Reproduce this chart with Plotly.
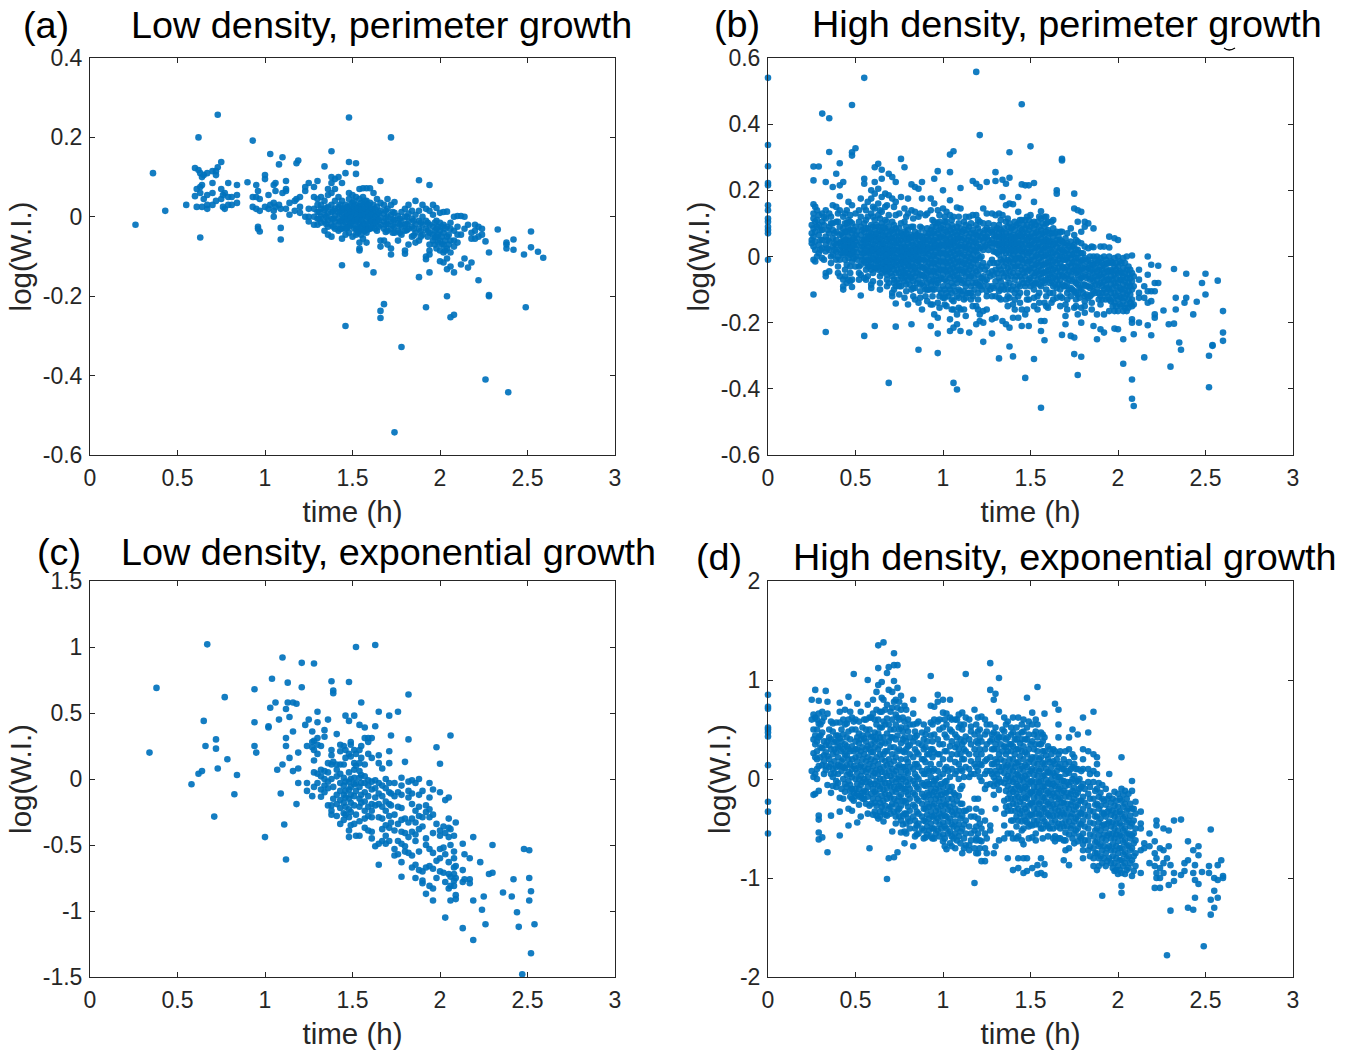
import plotly.graph_objects as go

# each row: (time in h, [log(W.I.) values read at that time])
panel_a = [
(.26,[-.02]),(.36,[.11]),(.43,[.015]),(.55,[.03]),(.60,[.123,.052]),(.61,[.07,.025]),(.62,[.20,.118]),(.63,[-.052,.075,.11,.06]),
(.64,[.025,.08,.10]),(.65,[.045,.105]),(.67,[.11,.02,.055,.03]),(.70,[.115,.03,.06,.085]),(.72,[.105,.115,.04]),(.73,[.257,.125]),
(.75,[.138,.07,.045]),(.76,[.055,.025]),(.77,[.06,.02]),(.79,[.05,.03,.085]),(.81,[.03,.05]),(.84,[.08,.055,.035]),(.90,[.087]),
(.93,[.192,.05,.025]),(.95,[.08,.05,.02]),(.96,[-.025,-.03,.065]),(.97,[-.037,.045,.015]),(1.0,[.105,.095,.025]),(1.02,[.055,.02]),
(1.03,[.158,.03]),(1.05,[.08,.035,.015,.0]),(1.06,[.085,.065,.025]),(1.08,[.132,.03]),(1.09,[-.028,-.057,.02]),(1.10,[.15,.06]),
(1.12,[.09,.065,.07,.02]),(1.14,[.005,.035]),(1.17,[.04,.015]),(1.18,[.135,.045]),(1.19,[.142]),(1.20,[.05,.025,.01]),
(1.23,[.065,.075,.0]),(1.25,[.085,.0,-.012,.02]),(1.28,[.075,.05,-.02,.02,.0]),
(1.30,[.09,.045,.03,.012,-.005,-.02]),(1.32,[.05,.02,.0,-.015,.03]),(1.34,[.127,.04,.018,.005,-.012,-.035]),
(1.36,[.07,.055,.025,.008,-.008,-.025,-.045]),(1.38,[.165,.1,.085,.06,.03,.012,-.005,-.02,-.05]),(1.40,[.095,.07,.04,.02,.003,-.012,-.03]),
(1.42,[.1,.05,.025,.01,-.005,-.02,-.035]),(1.44,[.085,.04,.02,.005,-.01,-.03,-.055,-.122]),(1.46,[.11,.03,.015,.0,-.015,-.03,-.045,-.275]),
(1.48,[.25,.138,.06,.045,.02,.005,-.01,-.025,-.04]),(1.50,[.055,.035,.02,.008,-.005,-.02,-.05]),(1.52,[.135,.108,.05,.03,.015,.0,-.012,-.03,-.045]),
(1.54,[.07,.045,.028,.012,-.002,-.018,-.035,-.08,-.085,-.065]),(1.56,[.072,.05,.03,.015,.0,-.015,-.03,-.055]),(1.58,[.072,.04,.025,.008,-.008,-.025,-.04,-.065,-.12]),
(1.60,[.072,.035,.018,.002,-.012,-.03]),(1.62,[.06,.03,.012,-.005,-.02,-.14]),(1.64,[.045,.025,.005,-.01,-.035]),
(1.66,[.09,.035,.015,-.002,-.02,-.06,-.075,-.237,-.255]),(1.68,[.03,.008,-.012,-.03,-.06,-.22]),(1.70,[.045,.02,.0,-.018,-.035,-.07]),
(1.72,[.2,.03,.005,-.012,-.03,-.08,-.095]),(1.74,[.037,.01,-.008,-.025,-.04,-.543]),(1.76,[.002,-.015,-.035,-.06]),
(1.78,[.012,-.01,-.025,-.045,-.328]),(1.80,[.02,.0,-.02,-.035,-.085,-.093]),(1.82,[.03,.008,-.012,-.03,-.07]),(1.84,[.015,-.005,-.025,-.05]),
(1.86,[.04,.005,-.018,-.04,-.065]),(1.88,[.092,.015,-.01,-.03,-.06,-.152]),(1.90,[.03,.0,-.02,-.045]),(1.92,[.02,-.01,-.03,-.1,-.107,-.228]),
(1.94,[.08,.015,-.02,-.04,-.07,-.085,-.095,-.14]),(1.96,[.03,.005,-.025,-.045,-.06]),(1.98,[.022,-.01,-.03,-.05,-.08]),
(2.0,[.01,-.015,-.035,-.06,-.085,-.112]),(2.02,[.012,-.02,-.04,-.07,-.09,-.115]),(2.04,[.013,-.025,-.05,-.08,-.105,-.132,-.2]),
(2.06,[-.015,-.03,-.06,-.09,-.253,-.125]),(2.08,[.0,-.035,-.06,-.075,-.14,-.247]),(2.10,[.002,-.025,-.045,-.065]),(2.12,[.002,-.045,-.12]),
(2.14,[.0,-.03,-.105]),(2.16,[-.02,-.128]),(2.18,[-.115,-.04,-.055]),(2.20,[-.02,-.035,-.055]),(2.22,[-.025,-.05,-.16]),(2.24,[-.03,-.045]),
(2.26,[-.062,-.41]),(2.28,[-.09,-.197,-.2]),(2.33,[-.032]),(2.38,[-.065,-.08,-.07]),(2.39,[-.442]),(2.42,[-.057,-.083]),(2.48,[-.095]),
(2.49,[-.228]),(2.52,[-.037,-.077]),(2.56,[-.088]),(2.59,[-.103]),
# dense core
(1.31,[.012,-.005]),(1.35,[.022,.0,-.018]),(1.39,[.015,-.005,-.025]),(1.43,[.03,.012,-.012,-.03]),(1.45,[.02,-.002,-.022]),(1.47,[.025,.008,-.008,-.028]),
(1.49,[.03,.012,-.003,-.018]),(1.51,[.04,.025,.012,-.01,-.03]),(1.53,[.02,.005,-.007,-.025,-.04]),(1.55,[.035,.018,.004,-.01,-.028,-.045]),(1.57,[.04,.02,.005,-.02,-.036]),
(1.59,[.03,.012,-.002,-.018,-.032]),(1.61,[.02,.005,-.012,-.028]),(1.63,[.018,.0,-.015,-.03]),(1.65,[.01,-.008,-.025]),(1.69,[.015,-.004,-.02,-.038]),
(1.73,[.012,-.006,-.022,-.04]),(1.77,[-.005,-.02,-.04]),(1.81,[.0,-.018,-.034]),(1.85,[-.01,-.03,-.047]),(1.89,[-.015,-.036,-.05]),(1.93,[-.015,-.035,-.05]),
(1.97,[-.015,-.035,-.052,-.07]),(1.99,[-.025,-.045,-.065]),(2.01,[-.025,-.05,-.07]),(2.03,[-.03,-.06,-.085]),(2.05,[-.045,-.07]),
]

panel_b = [
(0,[.54,.337,.273,.222,.215,.155,.14,.115,.105,.09,.08,.07,-.01]),
(.25,[.095,.07,.05,.04]),(.26,[.272,.23,.158,.13,.115,.085,.06,.03,-.01,-.115]),(.27,[.15,.105,.075,.045,.02,-.015]),
(.29,[.272,.125,.095,.065,.035,.01]),(.31,[.432,.13,.105,.08,.05,.025,-.005]),(.33,[.225,.14,.115,.06,.035,.015,-.05,-.06,-.228]),
(.35,[.418,.316,.13,.09,.07,.045,.02,-.045]),(.37,[.21,.155,.1,.08,.055,.03,.005]),(.39,[.25,.15,.105,.075,.05,.035,.015,-.01]),
(.41,[.282,.182,.215,.14,.09,.065,.04,.02,-.01,-.06]),(.43,[.225,.12,.085,.06,.045,.025,.005,-.07,-.1,-.09]),(.45,[.14,.1,.075,.05,.03,.01,-.025,-.08]),
(.46,[.165,.11,.085,.06,.04,.02,-.005,-.07]),(.48,[.458,.315,.305,.155,.1,.07,.05,.03,.01,-.015,-.07,-.092]),(.50,[.327,.13,.09,.065,.045,.025,.0,-.03]),
(.53,[.175,.12,.09,.065,.04,.02,.0,-.025,-.055,-.118]),(.55,[.54,.235,.22,.15,.1,.075,.05,.03,.01,-.015,-.065,-.24]),(.57,[.165,.12,.085,.06,.04,.015,-.01,-.03,-.06]),
(.59,[.2,.175,.13,.095,.07,.05,.025,.005,-.02,-.04,-.085,-.095]),(.61,[.27,.225,.19,.145,.11,.08,.06,.035,.015,-.01,-.035,-.21]),(.63,[.28,.205,.16,.125,.09,.065,.045,.02,.0,-.02,-.04]),
(.65,[.262,.235,.18,.135,.1,.075,.05,.03,.01,-.01,-.03,-.05]),(.67,[.19,.15,.11,.085,.06,.035,.015,-.005,-.025,-.045]),(.69,[.25,.185,.125,.09,.065,.045,.02,.0,-.02,-.04,-.08,-.382]),
(.71,[.24,.175,.105,.08,.055,.03,.01,-.01,-.03,-.06,-.11,-.12]),(.73,[.225,.165,.125,.085,.06,.04,.02,-.005,-.025,-.05,-.09,-.142,-.212]),(.76,[.295,.18,.1,.07,.05,.025,.005,-.015,-.035,-.06,-.09]),
(.78,[.27,.145,.105,.075,.055,.03,.01,-.01,-.03,-.05,-.075,-.125]),(.80,[.175,.13,.08,.06,.04,.015,-.005,-.025,-.05,-.07,-.145]),(.82,[.218,.14,.09,.065,.045,.02,.0,-.02,-.04,-.065,-.1,-.205]),
(.84,[.21,.135,.075,.055,.03,.01,-.01,-.035,-.06,-.095,-.13]),(.86,[.205,.12,.07,.05,.025,.005,-.015,-.04,-.07,-.14,-.282]),(.88,[.225,.175,.085,.06,.04,.02,-.005,-.03,-.055,-.08,-.16]),
(.90,[.125,.07,.05,.03,.01,-.015,-.04,-.065,-.1,-.12]),(.93,[.175,.14,.08,.06,.035,.015,-.01,-.03,-.055,-.085,-.145,-.21]),(.95,[.235,.16,.105,.075,.05,.03,.005,-.02,-.045,-.07,-.1,-.175]),
(.97,[.258,.14,.1,.07,.045,.025,.0,-.025,-.05,-.08,-.14,-.185,-.292,-.233]),(1.0,[.2,.145,.095,.065,.04,.02,-.005,-.03,-.055,-.09,-.125]),(1.02,[.135,.105,.075,.05,.03,.005,-.02,-.045,-.075,-.11,-.15]),
(1.04,[.308,.255,.17,.125,.08,.055,.035,.01,-.015,-.04,-.065,-.1,-.19,-.225]),(1.06,[.318,.12,.085,.06,.04,.015,-.01,-.035,-.06,-.09,-.135,-.16,-.215,-.382]),(1.08,[.148,.09,.065,.045,.02,-.005,-.03,-.055,-.08,-.12,-.175,-.205,-.402]),
(1.10,[.207,.145,.085,.06,.035,.01,-.015,-.04,-.07,-.105,-.16,-.225]),(1.13,[.12,.095,.07,.04,.02,-.01,-.035,-.06,-.09,-.125,-.18]),(1.15,[.12,.09,.06,.035,.01,-.015,-.04,-.065,-.11,-.23]),
(1.17,[.228,.125,.08,.055,.03,.005,-.02,-.05,-.08,-.12,-.15]),(1.19,[.558,.22,.125,.095,.065,.04,.015,-.01,-.045,-.08,-.15,-.205]),(1.21,[.367,.21,.105,.075,.05,.025,-.005,-.04,-.075,-.09,-.175,-.195]),
(1.23,[.145,.1,.07,.045,.02,-.02,-.06,-.09,-.165,-.2,-.258]),(1.25,[.225,.13,.085,.06,.035,-.03,-.07,-.105,-.12,-.16]),(1.28,[.13,.075,.05,.03,-.01,-.045,-.09,-.12,-.19,-.233]),
(1.30,[.255,.228,.125,.08,.06,.04,.015,-.04,-.075,-.12,-.185]),(1.32,[.13,.095,.07,.05,.03,.005,-.03,-.065,-.105,-.125,-.308]),(1.34,[.232,.18,.125,.075,.055,.035,.015,-.015,-.05,-.09,-.195]),
(1.36,[.22,.155,.105,.07,.05,.03,.01,-.02,-.05,-.085,-.13,-.205]),(1.38,[.238,.315,.16,.1,.075,.05,.03,.01,-.015,-.045,-.08,-.125,-.215,-.272]),(1.40,[.158,.09,.065,.045,.025,.005,-.02,-.05,-.09,-.145,-.185,-.302]),
(1.43,[.18,.135,.1,.07,.05,.03,.005,-.02,-.05,-.085,-.12,-.185]),(1.45,[.46,.218,.11,.08,.06,.035,.015,-.01,-.04,-.07,-.16,-.21]),(1.47,[.215,.11,.085,.06,.04,.015,-.01,-.035,-.06,-.09,-.175,-.367]),
(1.49,[.215,.11,.08,.055,.035,.01,-.015,-.04,-.07,-.13,-.21]),(1.50,[.333,.125,.09,.06,.035,.015,-.01,-.035,-.065,-.09]),(1.52,[.222,.165,.085,.06,.04,.015,-.01,-.035,-.06,-.085,-.125,-.31]),
(1.54,[.105,.075,.05,.03,.005,-.02,-.045,-.07,-.12,-.16]),(1.56,[.137,.115,.08,.055,.03,.01,-.015,-.04,-.065,-.09,-.195,-.225,-.457]),(1.58,[.12,.09,.065,.045,.025,.0,-.025,-.05,-.08,-.14,-.195,-.253]),
(1.60,[.105,.08,.055,.035,.01,-.015,-.04,-.065,-.155]),(1.62,[.105,.07,.045,.025,.0,-.025,-.05,-.075,-.14]),(1.65,[.2,.19,.075,.05,.03,.005,-.02,-.045,-.07,-.095,-.125]),
(1.68,[.295,.29,.075,.045,.02,.0,-.03,-.055,-.085,-.125,-.237]),(1.70,[.055,.035,.01,-.01,-.04,-.065,-.09,-.145,-.18,-.205]),(1.73,[.085,.045,.02,-.005,-.03,-.06,-.095,-.12,-.24]),
(1.75,[.19,.145,.065,.035,.01,-.015,-.04,-.07,-.105,-.155,-.245,-.295]),(1.77,[.14,.105,.045,.02,-.005,-.03,-.055,-.085,-.115,-.175,-.358]),(1.79,[.135,.075,.04,.01,-.015,-.04,-.065,-.1,-.155,-.2,-.303]),
(1.81,[.105,.09,-.005,-.03,-.055,-.085,-.12,-.15]),(1.83,[.1,.025,-.01,-.035,-.06,-.09,-.125]),(1.86,[.085,.028,.0,-.025,-.05,-.075,-.105,-.21]),
(1.88,[.0,-.02,-.045,-.07,-.1,-.175,-.25]),(1.90,[.03,-.005,-.03,-.055,-.08,-.12,-.145,-.22]),(1.92,[.03,.0,-.025,-.05,-.075,-.1,-.175,-.23]),
(1.95,[.06,.027,.0,-.02,-.045,-.07,-.1,-.13,-.165]),(1.98,[.055,-.005,-.03,-.055,-.08,-.11,-.14,-.165,-.218]),(2.0,[.05,.0,-.03,-.05,-.08,-.105,-.13,-.165,-.22]),
(2.03,[-.005,-.035,-.06,-.085,-.11,-.135,-.165,-.25,-.324]),(2.05,[.0,-.04,-.065,-.09,-.115,-.145,-.165]),(2.08,[.003,-.05,-.075,-.1,-.13,-.15,-.19,-.2,-.43,-.372]),
(2.09,[-.06,-.09,-.145,-.235,-.452]),(2.12,[-.04,-.07,-.11,-.125,-.2]),(2.15,[-.09,-.125,-.305]),(2.17,[.0,-.055,-.105,-.14,-.208]),
(2.19,[-.025,-.105,-.135,-.238]),(2.21,[-.08,-.105,-.175,-.185]),(2.23,[-.028,-.08]),(2.26,[-.163]),(2.29,[-.205]),(2.30,[-.333]),
(2.32,[-.038,-.203]),(2.33,[-.125,-.16]),(2.35,[-.26]),(2.36,[-.282]),(2.39,[-.052,-.125]),(2.38,[-.14]),(2.43,[-.175]),(2.45,[-.137]),
(2.48,[-.08]),(2.50,[-.052,-.115]),(2.52,[-.3,-.395]),(2.54,[-.268,-.27]),(2.57,[-.073]),(2.60,[-.165,-.23,-.255]),
# dense core
(.30,[.08,.05,.02]),(.34,[.08,.05,.025]),(.38,[.07,.04,.02]),(.42,[.07,.045,.03,.01]),(.44,[.075,.05,.03,.012]),(.47,[.08,.045,.025,.005]),(.49,[.08,.055,.035,.015,-.005]),
(.51,[.075,.055,.035,.012,-.01]),(.54,[.08,.05,.03,.01,-.01]),(.56,[.085,.06,.04,.02,-.002,-.02]),(.58,[.075,.055,.03,.01,-.012,-.03]),(.60,[.09,.06,.04,.02,-.005,-.03]),
(.62,[.095,.07,.05,.025,.005,-.015,-.035]),(.64,[.08,.055,.035,.012,-.01,-.03]),(.66,[.09,.065,.04,.02,.0,-.02,-.04]),(.68,[.075,.05,.025,.005,-.015,-.035,-.055]),(.70,[.075,.055,.035,.012,-.01,-.03,-.05]),
(.72,[.07,.045,.02,.0,-.02,-.04,-.07]),(.74,[.075,.05,.03,.01,-.015,-.04,-.07]),(.75,[.06,.04,.015,-.005,-.025,-.05,-.08]),(.77,[.065,.04,.02,.0,-.02,-.045,-.065]),(.79,[.07,.05,.025,.005,-.015,-.04,-.06]),
(.81,[.055,.03,.01,-.01,-.03,-.06,-.085]),(.83,[.06,.035,.015,-.005,-.03,-.05,-.075]),(.85,[.065,.04,.02,.0,-.02,-.05,-.08]),(.87,[.06,.035,.015,-.01,-.03,-.055,-.085]),(.89,[.05,.03,.01,-.01,-.035,-.06,-.09]),
(.91,[.06,.04,.02,-.005,-.03,-.05,-.08]),(.92,[.07,.05,.025,.005,-.02,-.045,-.07,-.1]),(.94,[.07,.045,.025,.0,-.02,-.045,-.075,-.1]),(.96,[.09,.06,.035,.015,-.01,-.035,-.06,-.085]),(.98,[.08,.055,.03,.01,-.015,-.04,-.07,-.1]),
(.99,[.085,.06,.035,.01,-.015,-.04,-.065,-.11]),(1.01,[.08,.055,.035,.01,-.015,-.04,-.07,-.1]),(1.03,[.09,.065,.04,.02,-.005,-.03,-.055,-.09,-.12]),(1.05,[.07,.045,.025,.0,-.025,-.05,-.08,-.11]),(1.07,[.075,.05,.03,.005,-.02,-.045,-.07,-.105]),
(1.09,[.075,.055,.03,.01,-.015,-.04,-.065,-.1]),(1.11,[.075,.05,.025,.0,-.025,-.05,-.08,-.115]),(1.12,[.08,.055,.03,.005,-.02,-.045,-.075,-.105]),(1.14,[.08,.05,.025,.0,-.025,-.05,-.08,-.11]),(1.16,[.07,.045,.02,-.005,-.03,-.06,-.09]),
(1.18,[.07,.045,.02,-.01,-.035,-.065,-.1]),(1.20,[.085,.06,.03,.005,-.025,-.055,-.085,-.11]),(1.22,[.06,.03,.0,-.03,-.065,-.1]),(1.24,[.08,.055,.03,-.04,-.075]),(1.26,[.1,.07,.05,.02,-.05,-.09]),
(1.27,[.08,.04,-.02,-.06,-.1]),(1.29,[.095,.065,.04,.015,-.02,-.055,-.095]),(1.31,[.085,.06,.035,.01,-.02,-.05,-.09]),(1.33,[.08,.06,.04,.02,-.01,-.04,-.075]),(1.35,[.085,.06,.04,.02,-.005,-.03,-.06,-.1]),
(1.37,[.09,.06,.04,.02,-.01,-.035,-.065,-.1]),(1.39,[.085,.06,.04,.02,-.005,-.03,-.06,-.1]),(1.41,[.08,.055,.035,.015,-.01,-.035,-.07,-.11]),(1.42,[.095,.06,.04,.02,-.005,-.03,-.06,-.1]),(1.44,[.085,.065,.04,.02,-.005,-.03,-.06,-.09]),
(1.46,[.095,.07,.05,.025,.005,-.02,-.05,-.08]),(1.48,[.095,.07,.05,.025,.005,-.02,-.045,-.08,-.11]),(1.51,[.1,.07,.045,.025,.0,-.025,-.05,-.08]),(1.53,[.095,.07,.05,.025,.0,-.025,-.05,-.08]),(1.55,[.09,.065,.04,.02,-.005,-.03,-.055,-.085]),
(1.57,[.1,.07,.045,.02,.0,-.025,-.05,-.075]),(1.59,[.1,.075,.05,.03,.005,-.02,-.045,-.07,-.1]),(1.61,[.07,.045,.02,-.005,-.03,-.055,-.08,-.11]),(1.63,[.085,.06,.035,.01,-.015,-.04,-.065,-.09]),(1.64,[.07,.04,.015,-.01,-.035,-.06,-.085]),
(1.66,[.06,.04,.015,-.01,-.035,-.06,-.085]),(1.67,[.05,.025,.0,-.02,-.045,-.07,-.1]),(1.69,[.04,.015,-.01,-.035,-.06,-.09]),(1.71,[.04,.02,-.005,-.03,-.055,-.08,-.11]),(1.72,[.03,.005,-.02,-.045,-.07,-.1]),
(1.74,[.03,.005,-.02,-.045,-.075,-.1]),(1.76,[.02,-.005,-.03,-.05,-.08,-.11]),(1.78,[.01,-.02,-.045,-.07,-.095,-.125]),(1.80,[.01,-.01,-.035,-.06,-.085,-.11]),(1.82,[-.015,-.04,-.065,-.09,-.115]),
(1.84,[.0,-.025,-.045,-.07,-.095,-.12]),(1.85,[-.02,-.04,-.065,-.09,-.115]),(1.87,[-.01,-.035,-.06,-.085,-.11]),(1.89,[-.015,-.04,-.06,-.085,-.11,-.13]),(1.91,[-.02,-.04,-.065,-.09,-.11,-.13]),
(1.93,[-.01,-.035,-.06,-.085,-.11,-.13]),(1.94,[-.02,-.045,-.07,-.095,-.12]),(1.96,[-.015,-.04,-.06,-.085,-.11,-.135]),(1.97,[-.02,-.045,-.07,-.095,-.125,-.15]),(1.99,[-.02,-.04,-.065,-.09,-.12,-.15]),
(2.01,[-.015,-.045,-.07,-.095,-.12,-.145]),(2.02,[-.02,-.05,-.07,-.1,-.125,-.15]),(2.04,[-.02,-.05,-.075,-.1,-.125,-.155]),(2.06,[-.03,-.055,-.08,-.105,-.13,-.155]),(2.07,[-.04,-.065,-.09,-.115,-.14]),
# outer band of the cloud
(.28,[.11,.14,.09,.0]),(.32,[.12,.095,-.01]),(.36,[.12,.1,.0,-.02]),(.40,[.13,.105,.0,-.03,-.05]),(.44,[.13,.1,-.01,-.04,-.06]),(.47,[.125,.105,-.03,-.05,-.075]),(.52,[.14,.105,-.03,-.05,-.07]),
(.56,[.14,.11,-.04,-.07]),(.60,[.15,.12,-.05,-.075]),(.64,[.14,.115,-.06,-.08,-.1]),(.68,[.155,.105,-.07,-.09]),(.72,[.15,.095,-.08,-.1]),(.75,[.13,.085,-.09,-.115]),(.79,[.12,.09,-.085,-.105]),
(.83,[.115,.09,-.095,-.12]),(.87,[.13,.09,-.105,-.125]),(.91,[.13,.085,-.1,-.135]),(.94,[.11,.09,-.12,-.145]),(.98,[.125,.105,-.12,-.155]),(1.01,[.12,.105,-.125,-.145]),(1.05,[.11,.095,-.13,-.16]),
(1.09,[.12,.1,-.125,-.155]),(1.12,[.105,-.13,-.16]),(1.16,[.1,-.11,-.13]),(1.20,[.11,-.13,-.16]),(1.33,[.11,-.1,-.13]),(1.37,[.115,-.12,-.15]),(1.41,[.105,-.13,-.16]),(1.44,[.11,-.11,-.14]),(1.48,[.12,-.13,-.16]),
(1.52,[.105,-.1,-.15]),(1.55,[.12,-.11,-.14]),(1.59,[.12,-.12,-.15]),(1.63,[.11,-.11,-.13]),(1.67,[.075,-.12,-.15]),(1.71,[.07,-.13,-.16]),(1.76,[.05,-.13,-.15]),(1.81,[.03,-.135,-.17]),(1.85,[.03,-.14,-.16]),
]

panel_c = [
(.34,[.2]),(.38,[.69]),(.58,[-.04]),(.62,[.04]),(.64,[.06]),(.65,[.44]),(.66,[.25]),(.67,[1.02]),(.71,[-.285]),(.72,[.30,.23]),(.73,[.08]),
(.77,[.62]),(.785,[.15]),(.825,[-.115]),(.84,[.03]),(.94,[.68,.43,.25]),(.95,[.20]),(1.0,[-.44]),(1.02,[.40,.39]),(1.03,[.54]),(1.04,[.76]),
(1.06,[.58]),(1.07,[.07]),(1.08,[.45]),(1.09,[-.11]),(1.10,[.92,.11]),(1.11,[-.345]),(1.12,[.53,.31,.25,-.61]),(1.13,[.58,.73]),(1.14,[.47,.16]),
(1.16,[.58,.36,.06]),(1.18,[.57,-.19]),(1.19,[.20,.08,-.03]),(1.21,[.88,.695]),(1.23,[.41]),(1.24,[.25,-.03,-.09]),(1.25,[.45]),
(1.27,[.36,.28,.24,-.13]),(1.28,[.875,.29,.22,.14,.05,-.06]),(1.30,[.51,.43,.31,.26,.19,.04,-.03]),(1.32,[.25,.07,.02,-.08,-.135]),
(1.34,[.37,.32,.06,.0,-.05,-.1]),(1.36,[.45,.12,.05,-.02,-.2,-.07]),(1.38,[.74,.22,.18,.11,.0,-.2,-.27,-.24]),
(1.39,[.67,.65,.13,-.06,-.15]),(1.41,[.34,.11,.07,.02,-.12,-.19,-.28]),(1.43,[.26,.21,.11,.04,-.03,-.09,-.16,-.22,-.34]),(1.45,[.25,.11,.01,-.05,-.12,-.18,-.26,-.31]),
(1.46,[.48,.22,.16,-.02,-.09,-.14,-.21,-.27]),(1.48,[.735,.44,.19,.05,-.02,-.08,-.15,-.23,-.29,-.44,-.39]),(1.49,[.28,.26,.17,.0,-.06,-.12,-.18,-.25,-.35]),
(1.51,[.48,.22,.12,.07,.01,-.04,-.13,-.2,-.34]),(1.52,[1.0,.19,.1,-.03,-.09,-.27,-.43]),(1.54,[.41,.22,.12,.06,.01,-.06,-.15,-.21,-.32,-.43]),(1.55,[.58,.25,.16,.03,-.03,-.12,-.18]),
(1.57,[.39,.31,.11,.02,-.03,-.1,-.17,-.24,-.3,-.37]),(1.59,[.31,.28,.19,-.01,-.05,-.13,-.21,-.28,-.39]),(1.61,[.31,.16,-.02,-.08,-.19,-.24,-.29,-.4,-.45]),
(1.63,[1.015,.4,-.01,-.07,-.14,-.2,-.51]),(1.65,[.51,.18,.12,-.03,-.11,-.19,-.29,-.49,-.65]),(1.67,[.08,-.05,-.13,-.21,-.3,-.38,-.47]),
(1.69,[.0,-.07,-.17,-.24,-.35,-.43,-.49]),(1.71,[.48,.21,.12,-.03,-.1,-.19,-.28,-.37,-.47]),(1.72,[.33,-.11,-.2,-.33]),(1.74,[-.03,-.13,-.27,-.39,-.53,-.58]),
(1.76,[.51,-.1,-.21,-.34,-.47,-.57]),(1.78,[.01,-.05,-.12,-.22,-.31,-.4,-.49,-.63,-.74]),(1.80,[.13,-.3,-.41,-.51,-.55]),(1.82,[.64,.3,-.02,-.09,-.14,-.33,-.44,-.56]),
(1.84,[-.01,-.11,-.19,-.3,-.4,-.58,-.67]),(1.86,[-.03,-.24,-.33,-.42,-.47,-.65,-.75]),(1.88,[.0,-.12,-.21,-.28,-.38,-.55,-.69]),(1.90,[-.09,-.29,-.36,-.77,-.79,-.7]),
(1.92,[-.2,-.25,-.45,-.5,-.67,-.87]),(1.94,[-.03,-.14,-.23,-.29,-.53,-.66,-.81]),(1.96,[-.08,-.27,-.41,-.56,-.68,-.83,-.92]),(1.98,[.24,-.34,-.62,-.75]),
(2.0,[.115,-.1,-.39,-.43,-.53,-.6,-.7]),(2.02,[-.36,-.52,-.71]),(2.03,[-.16,-.41,-.57,-.78,-1.05]),(2.05,[-.14,-.3,-.37,-.44,-.63,-.72,-.83]),
(2.06,[.33,-.38,-.5,-.74,-.81,-.92]),(2.08,[-.43,-.55,-.6,-.67,-.72,-.77,-.81]),(2.09,[-.33,-.66,-.75,-.88,-.91]),(2.13,[-.49,-.69,-.78,-1.13]),
(2.14,[-.57,-.76]),(2.17,[-.6,-.76,-.79]),(2.19,[-.44,-.92,-1.22]),(2.23,[-.63]),(2.24,[-.99]),(2.25,[-.89]),(2.26,[-1.1]),(2.28,[-.72]),(2.30,[-.5,-.71]),
(2.36,[-.86]),(2.41,[-.89]),(2.42,[-.76]),(2.44,[-1.01]),(2.45,[-1.12]),(2.47,[-1.48]),(2.48,[-.53]),(2.51,[-.54,-.75,-.92]),(2.52,[-.85,-1.32]),(2.54,[-1.1]),
]

panel_d = [
(0,[.85,.73,.71,.52,.5,.47,.43,.14,-.23,-.33,-.55]),
(.25,[.8,.6,.08]),(.26,[.65,.5,.4,.26,-.16,.02]),(.27,[.9,.62,.44,.35,.22,.05,-.15]),(.29,[.79,.66,.56,.42,.13,-.12,-.37,-.41,-.54,-.61]),
(.31,[.68,.58,.47,.31,.14,-.59]),(.33,[.89,.34,.27,.13,.09]),(.34,[.78,.66,.38,.23,-.06,-.74]),(.36,[.58,.4,.3,.15,.05,-.14,-.37]),
(.39,[.57,.44,.38,.27,.12,-.02,-.08]),(.41,[.77,.68,.57,.41,.33,.13,-.19,-.33,-.57]),(.44,[.7,.55,.35,.25,.11,-.05,-.13]),
(.46,[.83,.6,.48,.3,.2,.07,-.02,-.3,-.47]),(.48,[.62,.5,.33,.2,.1,.02,-.1,-.2,-.32]),(.49,[1.06,.58,.28,.13,-.14,-.22]),
(.51,[.76,.42,.3,.18,.06,-.05,-.15,-.44]),(.53,[.68,.4,.28,.14,.03,-.06,-.17,-.38]),(.55,[.6,.41,.25,.12,.0,-.12,-.2]),(.57,[1.0,.75,.45,.33,.22,.1,.02,-.08,-.18,-.35]),
(.58,[.62,.5,.3,.15,-.03,-.27,-.7]),(.60,[.8,.66,.43,.27,.13,.03,-.1,-.2,-.36]),(.62,[.88,.7,.55,.4,.22,.09,-.02,-.15,-.27,-.37]),(.63,[1.35,1.12,.95,.6,.46,.3,.15,.05,-.07,-.2,-.4]),
(.65,[.98,.82,.68,.52,.37,.2,.07,-.05,-.17,-.28]),(.66,[1.38,.8,.58,.42,.25,.12,.0,-.11,-.22,-.33,-.43]),(.68,[1.07,.75,.61,.46,.28,.14,.03,-.09,-.2,-.37,-1.01]),
(.69,[1.13,.9,.55,.38,.2,.08,-.04,-.16,-.3,-.8]),(.71,[.88,.72,.6,.42,.25,.1,-.01,-.13,-.25,-.53]),(.72,[1.27,1.15,.99,.78,.5,.32,.18,.05,-.08,-.2,-.33,-.79]),
(.74,[1.15,.92,.72,.62,.44,.28,.12,.0,-.1,-.22,-.32,-.74]),(.76,[.84,.7,.52,.36,.2,.07,-.05,-.16,-.27,-.42,-.54]),(.78,[.74,.58,.42,.27,.12,.02,-.1,-.22,-.35,-.53,-.65]),
(.80,[.6,.48,.33,.17,.06,-.06,-.16,-.28,-.4]),(.83,[.8,.66,.55,.38,.22,.1,-.02,-.14,-.26,-.38,-.68]),(.85,[.56,.44,.27,.15,.02,-.08,-.2,-.33,-.47,-.56]),
(.88,[.47,.34,.2,.08,-.04,-.15,-.25,-.38,-.5]),(.90,[.45,.32,.17,.05,-.07,-.19,-.3,-.43,-.59]),(.93,[1.04,.74,.57,.44,.3,.15,.02,-.1,-.21,-.33,-.45,-.58]),
(.95,[.73,.6,.45,.27,.1,-.02,-.13,-.25,-.37,-.5,-.6]),(.97,[.85,.78,.58,.4,.25,.08,-.06,-.17,-.29,-.4,-.52]),(1.0,[.8,.67,.52,.35,.2,.05,-.08,-.2,-.32,-.44,-.56,-.63]),
(1.02,[.66,.55,.42,.28,.12,-.02,-.14,-.25,-.38,-.5,-.71]),(1.04,[.8,.62,.5,.33,.2,.02,-.12,-.28,-.4,-.53,-.65]),(1.07,[.6,.45,.32,.17,.05,-.16,-.3,-.43,-.55,-.7]),
(1.09,[.65,.52,.3,.15,.0,-.17,-.32,-.46,-.58]),(1.11,[.67,.5,.35,.2,.08,-.07,-.25,-.37,-.5,-.75]),(1.13,[1.06,.62,.43,.28,.12,-.32,-.42,-.55,-.67]),
(1.15,[.6,.4,.25,.1,.02,-.3,-.48,-.67,-.72]),(1.18,[.7,.45,.3,.15,.05,-.2,-.38,-.52,-.7,-1.05]),(1.20,[.62,.48,.36,.2,.08,-.2,-.4,-.55,-.75]),
(1.22,[.63,.38,.25,.14,-.02,-.33,-.5,-.63,-.83]),(1.24,[.6,.45,.3,.18,.05,-.1,-.42,-.55,-.7,-.83]),(1.27,[1.17,.9,.55,.38,.22,.08,-.05,-.47,-.52]),
(1.29,[.8,.47,.3,.15,.02,-.07,-.16,-.75]),(1.30,[.86,.52,.35,.2,.08,-.02,-.3,-.68]),(1.32,[1.02,.68,.42,.25,.12,.0,-.11,-.62]),
(1.35,[.62,.48,.33,.18,.06,-.04,-.22,-.35,-.47,-.6]),(1.37,[.58,.42,.28,.14,.03,-.07,-.2,-.32,-.55,-.8]),(1.40,[.62,.47,.33,.2,.08,-.03,-.13,-.25,-.42,-.6,-.92]),
(1.43,[.62,.45,.3,.17,.04,-.07,-.18,-.3,-.42,-.58,-.8,-.9]),(1.46,[.6,.48,.33,.2,.08,-.03,-.14,-.26,-.38,-.5,-.66,-.8,-.95]),(1.48,[.82,.52,.4,.25,.12,.0,-.1,-.2,-.33,-.44,-.8,-.93]),
(1.51,[.67,.55,.38,.22,.1,-.02,-.13,-.24,-.36,-.47,-.59,-.9]),(1.54,[.93,.55,.42,.28,.15,.03,-.08,-.18,-.3,-.42,-.87,-.96]),(1.56,[.47,.35,.22,.1,-.02,-.12,-.23,-.35,-.5,-.8,-.95]),
(1.58,[.66,.42,.28,.15,.04,-.07,-.19,-.3,-.43,-.86,-.97]),(1.61,[.3,.17,.06,-.05,-.16,-.27,-.38,-.5]),(1.64,[.76,.28,.15,.03,-.07,-.18,-.3,-.42,-.58,-.63]),
(1.66,[.7,.55,.42,.25,.12,.02,-.1,-.2,-.32,-.45,-.6]),(1.69,[.2,.1,-.02,-.12,-.24,-.36,-.48,-.62,-.82]),(1.72,[.42,.3,.17,.06,-.06,-.18,-.3,-.43,-.56,-.7,-.87]),
(1.74,[.5,.25,.12,.0,-.12,-.23,-.35,-.47,-.6]),(1.77,[.45,.1,-.02,-.14,-.26,-.38,-.5,-.63]),(1.80,[.62,.2,.1,-.05,-.18,-.3,-.42,-.55,-.66,-.8]),
(1.83,[.47,.28,.1,-.03,-.15,-.27,-.38,-.5,-.62,-.72]),(1.86,[.68,.25,.08,-.03,-.2,-.33,-.45,-.58,-.7,-.8,-.88]),(1.88,[.22,.15,.05,-.1,-.25,-.38,-.5,-.63,-.75,-.92]),
(1.91,[-.06,-.2,-.34,-.47,-.6,-.72,-.85,-1.18]),(1.93,[-.1,-.26,-.38,-.5,-.62,-.75,-.88]),(1.95,[.05,-.17,-.3,-.43,-.55,-.68,-.8]),(1.98,[-.13,-.27,-.38,-.5,-.6,-.72,-.85,-.93]),
(2.0,[-.15,-.28,-.4,-.52,-.63,-.75,-.88,-.96]),(2.02,[.22,-.1,-.22,-.35,-.47,-.58,-.7,-.82,-.95,-1.08,-1.15]),(2.04,[-.12,-.25,-.38,-.5,-.62,-.74,-.85,-.96]),(2.06,[-.15,-.3,-.42,-.55,-.67,-.78,-.9]),
(2.08,[-.02,-.12,-.3,-.45,-.57,-.7,-.82,-.98]),(2.10,[-.23,-.35,-.5,-.62,-.75,-.88]),(2.13,[-.33,-.45,-.5,-.72,-.95]),(2.15,[-.65,-.7]),(2.18,[-.55,-.68,-.85]),(2.21,[-.63,-.75,-.88,-1.1]),
(2.22,[-.42,-.47,-.8,-.95,-1.0]),(2.24,[-.7,-.9,-1.0,-1.1]),(2.26,[-.5,-.72,-.85,-.95]),(2.28,[-.8,-1.78]),(2.29,[-.52,-.68,-1.07]),(2.30,[-1.33,-.87]),(2.32,[-.42,-.95,-1.03]),
(2.36,[-.41,-.97]),(2.38,[-.85,-.93]),(2.40,[-.82,-1.3,-.63]),(2.43,[-.95,-1.32,-.72]),(2.44,[-.87,-1.02,-1.2]),(2.46,[-.77,-.68,-1.06]),(2.48,[-.94]),(2.49,[-1.69]),
(2.52,[-.88,-.95]),(2.53,[-.51,-1.22,-1.37]),(2.55,[-1.0,-1.13,-1.3]),(2.57,[-1.2,-.87,-1.02]),(2.59,[-.82]),(2.60,[-.98,-1.0]),
# dense core
(.47,[.15,.05,-.06]),(.50,[.22,.1,.0,-.1]),(.52,[.12,.0,-.1]),(.54,[.2,.08,-.03,-.14]),(.56,[.18,.07,-.03,-.13,-.25]),(.59,[.2,.08,-.05,-.15,-.25]),(.61,[.32,.18,.06,-.05,-.13,-.24]),
(.64,[.25,.1,.0,-.1,-.24,-.33]),(.67,[.18,.06,-.04,-.15,-.27]),(.70,[.32,.15,.03,-.07,-.19]),(.73,[.4,.22,.08,-.03,-.13,-.26]),(.75,[.3,.14,.02,-.07,-.18,-.3]),(.77,[.28,.12,.0,-.1,-.22,-.37]),
(.79,[.2,.08,-.03,-.13,-.24,-.35]),(.81,[.25,.12,.0,-.1,-.2,-.32,-.43]),(.84,[.3,.15,.05,-.05,-.16,-.28,-.42]),(.86,[.12,.0,-.1,-.22,-.35,-.45]),(.89,[.2,.05,-.06,-.18,-.3,-.42]),(.91,[.1,-.03,-.14,-.25,-.36,-.48]),
(.92,[.25,.08,-.05,-.16,-.28,-.4,-.52]),(.94,[.22,.08,-.05,-.16,-.27,-.38,-.5]),(.96,[.0,-.1,-.2,-.32,-.43,-.55]),(.98,[.15,.02,-.12,-.23,-.35,-.46]),(.99,[-.05,-.16,-.27,-.38,-.5]),(1.01,[.1,-.03,-.14,-.26,-.37,-.48,-.6]),
(1.03,[.08,-.08,-.2,-.31,-.43,-.55]),(1.05,[.25,.1,-.08,-.2,-.33,-.46,-.58]),(1.06,[-.14,-.25,-.36,-.48,-.6]),(1.08,[.25,.08,-.22,-.36,-.5]),(1.10,[.25,.1,-.1,-.25,-.4,-.53]),(1.12,[.2,.02,-.32,-.46,-.6]),
(1.16,[.35,.18,.05,-.38,-.55]),(1.19,[.25,.12,-.3,-.48,-.62]),(1.21,[.3,.15,.02,-.45,-.62]),(1.25,[.35,.2,.08,-.06,-.6]),(1.28,[.3,.15,.05]),(1.31,[.3,.17,.05,-.05]),(1.33,[.35,.2,.08,-.03]),
(1.36,[.4,.25,.12,.0,-.12,-.28]),(1.38,[.35,.2,.08,-.02,-.15,-.27]),(1.39,[.45,.28,.14,.02,-.1,-.2,-.32]),(1.41,[.4,.25,.12,.0,-.1,-.2,-.32]),(1.42,[.3,.16,.05,-.05,-.15,-.26,-.38]),(1.44,[.36,.23,.1,-.01,-.11,-.23,-.35]),
(1.45,[.4,.28,.13,.02,-.09,-.2,-.32,-.43]),(1.47,[.4,.27,.14,.03,-.08,-.19,-.3,-.42]),(1.49,[.45,.3,.17,.05,-.05,-.16,-.27,-.38]),(1.50,[.35,.2,.08,-.03,-.14,-.25,-.36,-.46]),(1.52,[.45,.3,.16,.04,-.08,-.19,-.3,-.42]),
(1.53,[.35,.22,.09,-.03,-.13,-.24,-.35,-.46]),(1.55,[.35,.2,.08,-.03,-.14,-.25,-.36,-.46]),(1.57,[.28,.16,.03,-.08,-.18,-.29,-.4,-.5]),(1.59,[.24,.1,-.01,-.12,-.23,-.34,-.46]),(1.60,[.2,.07,-.04,-.14,-.25,-.36,-.48]),
(1.62,[.25,.12,.0,-.1,-.21,-.32,-.44]),(1.63,[.18,.06,-.05,-.15,-.26,-.37,-.5]),(1.65,[.2,.08,-.03,-.14,-.25,-.36,-.48]),(1.67,[.15,.02,-.08,-.19,-.28,-.38,-.5]),(1.68,[.1,-.02,-.14,-.24,-.34,-.45]),
(1.70,[.15,.05,-.07,-.18,-.3,-.42,-.54]),(1.71,[.08,-.03,-.14,-.25,-.36,-.48]),(1.73,[.1,-.03,-.15,-.26,-.38,-.5]),(1.75,[.03,-.09,-.2,-.31,-.43,-.55]),(1.76,[.1,-.03,-.16,-.28,-.4,-.52]),(1.78,[.0,-.1,-.22,-.34,-.45,-.58]),
(1.79,[.08,-.08,-.22,-.35,-.46,-.6]),(1.81,[-.1,-.24,-.36,-.48,-.62]),(1.84,[-.08,-.2,-.32,-.44,-.56,-.68]),(1.87,[-.12,-.26,-.38,-.52,-.64,-.75]),(1.89,[-.18,-.3,-.44,-.57,-.68,-.8]),(1.90,[-.14,-.27,-.4,-.52,-.66,-.78]),
(1.92,[-.22,-.35,-.46,-.56,-.68,-.8]),(1.94,[-.2,-.33,-.45,-.57,-.7,-.83]),(1.96,[-.24,-.36,-.48,-.6,-.72,-.85]),(1.97,[-.2,-.32,-.44,-.55,-.66,-.78,-.9]),(1.99,[-.22,-.34,-.45,-.56,-.68,-.8,-.92]),
(2.01,[-.2,-.33,-.45,-.57,-.7,-.82,-.92]),(2.03,[-.16,-.28,-.4,-.52,-.64,-.76,-.88]),(2.05,[-.2,-.32,-.44,-.56,-.68,-.8,-.92]),(2.07,[-.25,-.37,-.48,-.6,-.72,-.85]),(2.09,[-.3,-.42,-.55,-.65,-.78,-.93]),
# outer band of the cloud
(.28,[.6,.5,.38,.28,.2,.1,.0]),(.30,[.55,.44,.32,.22]),(.32,[.62,.38,.24,.18,.05]),(.35,[.5,.42,.34,.2,.12]),(.37,[.56,.48,.25,.1,.02,-.07]),(.38,[.37,.3,.18,.06]),(.40,[.44,.32,.22,.14,.05,-.04]),(.42,[.5,.38,.28,.18,.08,-.1]),
(.43,[.6,.45,.3,.2,.12,.0,-.2]),(.45,[.56,.42,.33,.24,.14,.04,-.08]),(.47,[.68,.4,.28,-.12,-.18]),(.50,[.6,.5,.38,.3,-.17]),(.52,[.58,.46,.36,.24,-.18,-.26]),(.54,[.52,.44,.32,-.2]),(.56,[.6,.5,.38,.3]),
(.59,[.62,.42,.35,.27]),(.61,[.6,.47,.38,-.33]),(.64,[.68,.52,.42,.34,-.38]),(.67,[.7,.55,.36,.28,-.36]),(.70,[.68,.5,.42,-.28,-.35]),(.73,[.8,.65,.55,-.38,-.45]),(.75,[.78,.6,.5,-.38]),
(.77,[.62,.48,.4,-.46]),(.79,[.7,.52,.38,.3,-.45,-.55]),(.81,[.55,.42,.34,-.5]),(.84,[.48,.42,-.5,-.58]),(.86,[.58,.36,.25,-.55]),(.89,[.55,.4,.3,-.52,-.6]),(.91,[.5,.38,.25,-.56]),(.94,[.55,.38,.3,-.6]),(.98,[.6,.5,.35,.25,-.58]),
(1.01,[.6,.45,.28,-.68]),(1.05,[.6,.48,.38,-.68]),(1.08,[.6,.42,.35,-.62]),(1.10,[.55,.4,-.65]),(1.12,[.55,.38,.3,-.7]),(1.16,[.53,.48,-.62]),(1.19,[.55,.38,-.6,-.75]),(1.21,[.5,.42,-.7]),(1.25,[.55,.48,-.75]),
(1.28,[.45,.4]),(1.31,[.45,.4]),(1.34,[.5,.42,.28,.12]),(1.36,[.55,.32]),(1.39,[.52,.35,-.42,-.55]),(1.42,[.52,.4,-.48,-.6]),(1.45,[.55,.47,-.52,-.62]),(1.49,[.58,-.48,-.6]),(1.53,[.6,.48,-.55,-.62]),
(1.57,[.45,.38,-.6]),(1.60,[.33,-.58]),(1.63,[.3,-.6]),(1.67,[.28,-.6]),(1.70,[.28,-.62,-.72]),(1.75,[.22,.15,-.65]),(1.80,[.3,-.72]),(1.84,[.05,-.78]),(1.89,[-.04,-.88]),
]

ticks_x = [0, .5, 1, 1.5, 2, 2.5, 3]
labels_x = ["0", "0.5", "1", "1.5", "2", "2.5", "3"]
ticks_a = [.4, .2, 0, -.2, -.4, -.6]
labels_a = ["0.4", "0.2", "0", "-0.2", "-0.4", "-0.6"]
ticks_b = [.6, .4, .2, 0, -.2, -.4, -.6]
labels_b = ["0.6", "0.4", "0.2", "0", "-0.2", "-0.4", "-0.6"]
ticks_c = [1.5, 1, .5, 0, -.5, -1, -1.5]
labels_c = ["1.5", "1", "0.5", "0", "-0.5", "-1", "-1.5"]
ticks_d = [2, 1, 0, -1, -2]
labels_d = ["2", "1", "0", "-1", "-2"]

W, H = 1356, 1052
FONT = "Liberation Sans"
INK = "#262626"
BLUE = "rgba(0,114,189,0.92)"

panels = [
    (panel_a, (90, 615, 58, 455), (-.6, .4), ticks_a, labels_a, "(a)", 21, 25, "Low density, perimeter growth", 129, 25, 2),
    (panel_b, (768, 1293, 58, 455), (-.6, .6), ticks_b, labels_b, "(b)", 712, 24, "High density, perimeter growth", 810, 24, 2),
    (panel_c, (90, 615, 581, 977), (-1.5, 1.5), ticks_c, labels_c, "(c)", 35, 552, "Low density, exponential growth", 119, 552, 2),
    (panel_d, (768, 1293, 581, 977), (-2, 2), ticks_d, labels_d, "(d)", 694, 557, "High density, exponential growth", 791, 557, 0),
]

fig = go.Figure()
annotations = []
for i, (rows, box, yr, tv, tl, tag, tagx, tagy, title, tx, ty, ystand) in enumerate(panels, start=1):
    xs = [x for x, ys in rows for _y in ys]
    ys_all = [y for _x, ys in rows for y in ys]
    suffix = "" if i == 1 else str(i)
    fig.add_trace(go.Scatter(x=xs, y=ys_all, mode="markers", xaxis="x" + suffix, yaxis="y" + suffix,
                             cliponaxis=False, showlegend=False,
                             marker=dict(size=6.6, color=BLUE, line=dict(width=0))))
    l, r, t, b = box
    common = dict(showgrid=False, zeroline=False, showline=True, linecolor=INK, linewidth=1, mirror="allticks",
                  ticks="inside", ticklen=5, tickwidth=1, tickcolor=INK, ticklabelstandoff=2,
                  tickfont=dict(family=FONT, size=23, color=INK), automargin=False)
    fig.update_layout({
        "xaxis" + suffix: dict(domain=[l / W, r / W], range=[0, 3], tickvals=ticks_x, ticktext=labels_x,
                               anchor="y" + suffix, title=dict(text="time (h)", standoff=11,
                               font=dict(family=FONT, size=29.5, color=INK)), **common),
        "yaxis" + suffix: dict(domain=[1 - b / H, 1 - t / H], range=list(yr), tickvals=tv, ticktext=tl,
                               anchor="x" + suffix, title=dict(text="log(W.I.)", standoff=ystand,
                               font=dict(family=FONT, size=29.5, color=INK)), **common),
    })
    annotations.append(dict(text=tag, x=tagx / W, y=1 - tagy / H, xref="paper", yref="paper", xanchor="left",
                            yanchor="middle", showarrow=False, font=dict(family=FONT, size=37.8, color="black")))
    annotations.append(dict(text=title, x=tx / W, y=1 - ty / H, xref="paper", yref="paper", xanchor="left",
                            yanchor="middle", showarrow=False, font=dict(family=FONT, size=37.8, color="black")))

# small stray stroke under the "g" of panel (b)'s title in the reference
stray = dict(type="path", xref="paper", yref="paper", line=dict(color="black", width=1.3),
             path=f"M {1224/W} {1-48/H} Q {1229/W} {1-52/H} {1235/W} {1-48/H}")

fig.update_layout(width=W, height=H, margin=dict(l=0, r=0, t=0, b=0), paper_bgcolor="white", plot_bgcolor="white",
                  annotations=annotations, shapes=[stray])
fig.write_html("out.html", config={"displayModeBar": False}, post_script="document.body.style.margin='0';")
